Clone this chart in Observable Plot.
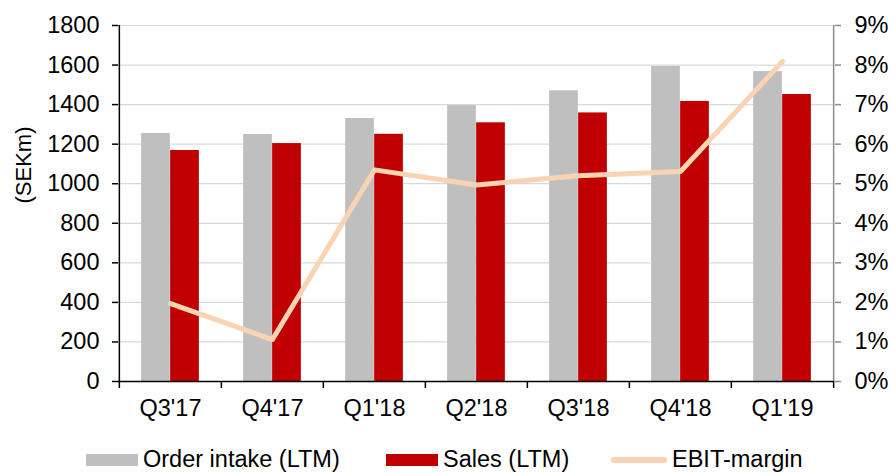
<!DOCTYPE html>
<html><head><meta charset="utf-8">
<script src="https://cdn.jsdelivr.net/npm/d3@7"></script>
<script src="https://cdn.jsdelivr.net/npm/@observablehq/plot@0.6"></script>
<style>
body{margin:0;background:#fff;font-family:"Liberation Sans",Arial,sans-serif;}
#legend{position:relative;height:40px;font-size:23.5px;color:#000;line-height:1}
.item{position:absolute;top:0;height:40px;display:flex;align-items:center;gap:5px;white-space:nowrap}
.sw{display:inline-block;width:52px;height:12px}
.ln{display:inline-block;width:56px;height:6px;border-radius:3px;background:#FAD3B2}
</style></head><body>
<div id="chart"></div>
<div id="legend"></div>
<script>
const quarters = ["Q3'17","Q4'17","Q1'18","Q2'18","Q3'18","Q4'18","Q1'19"];
const orderIntake = [1254,1249,1330,1395,1470,1593,1567];
const sales = [1168,1203,1250,1308,1358,1416,1451];
const ebitMargin = [1.97,1.06,5.35,4.97,5.20,5.31,8.09]; // percent
const leftTicks = [0,200,400,600,800,1000,1200,1400,1600,1800];
const rightTickPct = [0,1,2,3,4,5,6,7,8,9];
const seriesNames = ["Order intake (LTM)","Sales (LTM)","EBIT-margin"];
const colors = ["#BFBFBF","#C00000","#FAD3B2"];

const W = 894, H = 440, mL = 118, mR = 60, mT = 25, mB = 59;
const FS = 23.5;
const pctToLeft = 1800 / 9;
const step = (W - mL - mR) / quarters.length;
const barW = 29;
const inset = (step - barW) / 2;

const data = quarters.map((q, i) => ({q, order: orderIntake[i], sales: sales[i], ebit: ebitMargin[i]}));
const rightTicks = rightTickPct.map(p => p * pctToLeft);

const chart = Plot.plot({
  width: W, height: H,
  marginLeft: mL, marginRight: mR, marginTop: mT, marginBottom: mB,
  style: {fontFamily: "Liberation Sans, Arial, sans-serif", fontSize: FS + "px", color: "#000", background: "#fff"},
  x: {type: "band", domain: quarters, padding: 0},
  y: {domain: [0, 1800]},
  marks: [
    Plot.gridY(leftTicks, {stroke: "#D9D9D9", strokeOpacity: 1, strokeWidth: 1.2}),
    Plot.barY(data, {x: "q", y: "order", fill: colors[0], insetLeft: inset, insetRight: inset, dx: -barW/2}),
    Plot.barY(data, {x: "q", y: "sales", fill: colors[1], insetLeft: inset, insetRight: inset, dx: barW/2}),
    Plot.line(data, {x: "q", y: d => d.ebit * pctToLeft, stroke: colors[2], strokeWidth: 5, strokeLinecap: "round", strokeLinejoin: "round"}),
    Plot.ruleY([0], {stroke: "#000", strokeWidth: 1.5}),
    Plot.ruleX([quarters[0]], {dx: -step/2, stroke: "#000", strokeWidth: 1.5}),
    Plot.ruleX([quarters[quarters.length-1]], {dx: step/2, stroke: "#8C8C8C", strokeWidth: 1.5}),
    Plot.ruleX(quarters, {x: d => d, y1: 0, y2: 0, insetBottom: -7, dx: -step/2, stroke: "#000", strokeWidth: 1.5}),
    Plot.ruleX([quarters[quarters.length-1]], {x: d => d, y1: 0, y2: 0, insetBottom: -7, dx: step/2, stroke: "#000", strokeWidth: 1.5}),
    Plot.axisY(leftTicks, {anchor: "left", tickSize: 6, tickPadding: 13, stroke: "#000", strokeWidth: 1.5, fill: "#000", fontSize: FS, label: null, tickFormat: d => String(d)}),
    Plot.axisY(rightTicks, {anchor: "right", tickSize: 6, tickPadding: 14, stroke: "#8C8C8C", strokeWidth: 1.5, fill: "#000", fontSize: FS, label: null, tickFormat: d => (d / pctToLeft) + "%"}),
    Plot.axisX({tickSize: 0, tickPadding: 18, fontSize: FS, fill: "#000", label: null}),
    Plot.text(["(SEKm)"], {frameAnchor: "left", rotate: -90, dx: -95, fontSize: 22, fill: "#000"})
  ]
});
document.getElementById("chart").appendChild(chart);

const legendLeft = [86, 386, 611];
const legend = document.getElementById("legend");
seriesNames.forEach((name, i) => {
  const item = document.createElement("div");
  item.className = "item";
  item.style.left = legendLeft[i] + "px";
  const sw = document.createElement("span");
  if (i < 2) { sw.className = "sw"; sw.style.background = colors[i]; }
  else { sw.className = "ln"; }
  const t = document.createElement("span");
  t.textContent = name;
  item.appendChild(sw); item.appendChild(t);
  legend.appendChild(item);
});
</script>
</body></html>
